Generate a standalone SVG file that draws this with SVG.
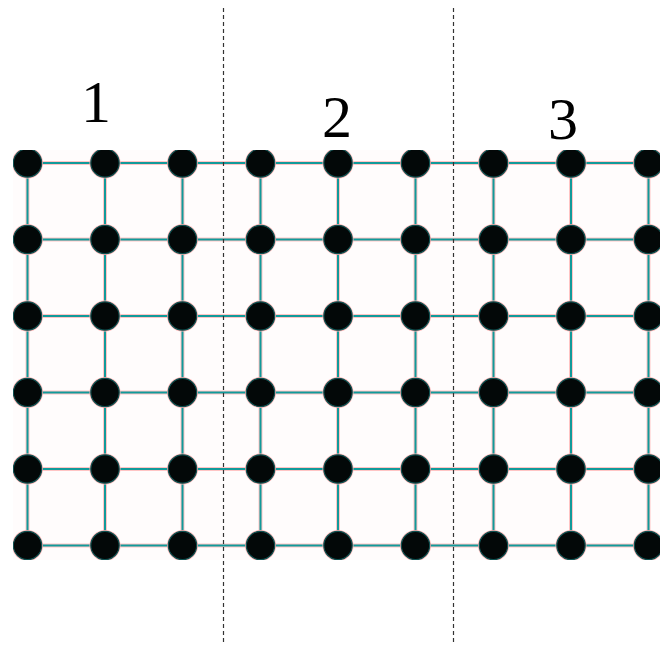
<svg xmlns="http://www.w3.org/2000/svg" width="660" height="645" viewBox="0 0 660 645">
<style>
.halo{stroke:#ffc4c4;stroke-width:4;fill:none}
.edge{stroke:#119a9a;stroke-width:2;fill:none}
.nh{fill:#ffb8b8}
.nd{fill:#030808;stroke:#0f5050;stroke-width:1.2}
.div{stroke:#333;stroke-width:1.2;stroke-dasharray:4 3;fill:none}
.lbl{font-family:"Liberation Serif",serif;font-size:60px;fill:#000;text-anchor:middle}
</style>
<defs>
<clipPath id="gc"><rect x="13" y="150" width="647" height="410"/></clipPath>
<g id="nodeShape"><circle r="15.5" class="nh"/><circle r="14.2" class="nd"/></g>
</defs>
<rect width="660" height="645" fill="#fff"/>
<g clip-path="url(#gc)">
<rect x="13" y="150" width="647" height="410" fill="#fffcfc"/>
<g id="connectors">
<g class="halo">
<path d="M27.5 163H660M27.5 239.5H660M27.5 316H660M27.5 392.5H660M27.5 469H660M27.5 545.5H660"/>
<path d="M27.5 150V545.5M105 150V545.5M182.5 150V545.5M260.5 150V545.5M338 150V545.5M415.5 150V545.5M493.5 150V545.5M571 150V545.5M648.5 150V545.5"/>
</g>
<g class="edge">
<path d="M27.5 163H660M27.5 239.5H660M27.5 316H660M27.5 392.5H660M27.5 469H660M27.5 545.5H660"/>
<path d="M27.5 150V545.5M105 150V545.5M182.5 150V545.5M260.5 150V545.5M338 150V545.5M415.5 150V545.5M493.5 150V545.5M571 150V545.5M648.5 150V545.5"/>
</g>
</g>
<g id="nodes">
<g id="n-0-0"><use href="#nodeShape" x="27.5" y="163"/></g>
<g id="n-1-0"><use href="#nodeShape" x="105" y="163"/></g>
<g id="n-2-0"><use href="#nodeShape" x="182.5" y="163"/></g>
<g id="n-3-0"><use href="#nodeShape" x="260.5" y="163"/></g>
<g id="n-4-0"><use href="#nodeShape" x="338" y="163"/></g>
<g id="n-5-0"><use href="#nodeShape" x="415.5" y="163"/></g>
<g id="n-6-0"><use href="#nodeShape" x="493.5" y="163"/></g>
<g id="n-7-0"><use href="#nodeShape" x="571" y="163"/></g>
<g id="n-8-0"><use href="#nodeShape" x="648.5" y="163"/></g>
<g id="n-0-1"><use href="#nodeShape" x="27.5" y="239.5"/></g>
<g id="n-1-1"><use href="#nodeShape" x="105" y="239.5"/></g>
<g id="n-2-1"><use href="#nodeShape" x="182.5" y="239.5"/></g>
<g id="n-3-1"><use href="#nodeShape" x="260.5" y="239.5"/></g>
<g id="n-4-1"><use href="#nodeShape" x="338" y="239.5"/></g>
<g id="n-5-1"><use href="#nodeShape" x="415.5" y="239.5"/></g>
<g id="n-6-1"><use href="#nodeShape" x="493.5" y="239.5"/></g>
<g id="n-7-1"><use href="#nodeShape" x="571" y="239.5"/></g>
<g id="n-8-1"><use href="#nodeShape" x="648.5" y="239.5"/></g>
<g id="n-0-2"><use href="#nodeShape" x="27.5" y="316"/></g>
<g id="n-1-2"><use href="#nodeShape" x="105" y="316"/></g>
<g id="n-2-2"><use href="#nodeShape" x="182.5" y="316"/></g>
<g id="n-3-2"><use href="#nodeShape" x="260.5" y="316"/></g>
<g id="n-4-2"><use href="#nodeShape" x="338" y="316"/></g>
<g id="n-5-2"><use href="#nodeShape" x="415.5" y="316"/></g>
<g id="n-6-2"><use href="#nodeShape" x="493.5" y="316"/></g>
<g id="n-7-2"><use href="#nodeShape" x="571" y="316"/></g>
<g id="n-8-2"><use href="#nodeShape" x="648.5" y="316"/></g>
<g id="n-0-3"><use href="#nodeShape" x="27.5" y="392.5"/></g>
<g id="n-1-3"><use href="#nodeShape" x="105" y="392.5"/></g>
<g id="n-2-3"><use href="#nodeShape" x="182.5" y="392.5"/></g>
<g id="n-3-3"><use href="#nodeShape" x="260.5" y="392.5"/></g>
<g id="n-4-3"><use href="#nodeShape" x="338" y="392.5"/></g>
<g id="n-5-3"><use href="#nodeShape" x="415.5" y="392.5"/></g>
<g id="n-6-3"><use href="#nodeShape" x="493.5" y="392.5"/></g>
<g id="n-7-3"><use href="#nodeShape" x="571" y="392.5"/></g>
<g id="n-8-3"><use href="#nodeShape" x="648.5" y="392.5"/></g>
<g id="n-0-4"><use href="#nodeShape" x="27.5" y="469"/></g>
<g id="n-1-4"><use href="#nodeShape" x="105" y="469"/></g>
<g id="n-2-4"><use href="#nodeShape" x="182.5" y="469"/></g>
<g id="n-3-4"><use href="#nodeShape" x="260.5" y="469"/></g>
<g id="n-4-4"><use href="#nodeShape" x="338" y="469"/></g>
<g id="n-5-4"><use href="#nodeShape" x="415.5" y="469"/></g>
<g id="n-6-4"><use href="#nodeShape" x="493.5" y="469"/></g>
<g id="n-7-4"><use href="#nodeShape" x="571" y="469"/></g>
<g id="n-8-4"><use href="#nodeShape" x="648.5" y="469"/></g>
<g id="n-0-5"><use href="#nodeShape" x="27.5" y="545.5"/></g>
<g id="n-1-5"><use href="#nodeShape" x="105" y="545.5"/></g>
<g id="n-2-5"><use href="#nodeShape" x="182.5" y="545.5"/></g>
<g id="n-3-5"><use href="#nodeShape" x="260.5" y="545.5"/></g>
<g id="n-4-5"><use href="#nodeShape" x="338" y="545.5"/></g>
<g id="n-5-5"><use href="#nodeShape" x="415.5" y="545.5"/></g>
<g id="n-6-5"><use href="#nodeShape" x="493.5" y="545.5"/></g>
<g id="n-7-5"><use href="#nodeShape" x="571" y="545.5"/></g>
<g id="n-8-5"><use href="#nodeShape" x="648.5" y="545.5"/></g>
</g>
</g>
<g id="dividers">
<line class="div" x1="223.5" y1="8" x2="223.5" y2="645"/>
<line class="div" x1="453.5" y1="8" x2="453.5" y2="645"/>
</g>
<g id="labels">
<text class="lbl" x="96" y="122">1</text>
<text class="lbl" x="337" y="137">2</text>
<text class="lbl" x="563" y="139">3</text>
</g>
</svg>
